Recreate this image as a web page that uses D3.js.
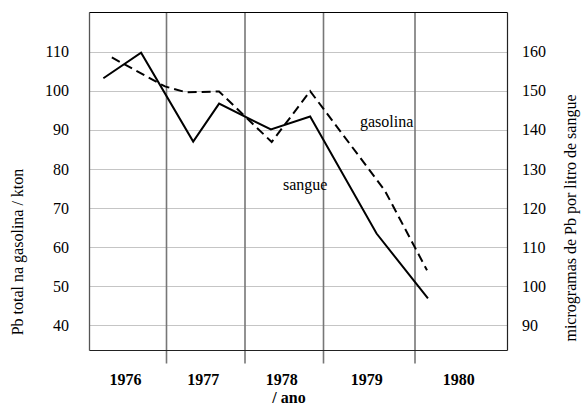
<!DOCTYPE html>
<html><head><meta charset="utf-8">
<script src="https://cdn.jsdelivr.net/npm/d3@7"></script>
<style>body{margin:0;background:#fff}svg{display:block}text{font-family:"Liberation Serif","Times New Roman",serif;fill:#000}</style>
</head><body><svg id="c" width="581" height="405"></svg>
<script>
const years = ["1976","1977","1978","1979","1980"];
const yearBounds = [1976,1977,1978,1979,1980,1981];
const leftTicks = [40,50,60,70,80,90,100,110];
const rightTicks = [90,100,110,120,130,140,150,160];
// gasolina (left axis, kton)
const gasT = [1976.29,1976.98,1977.25,1977.67,1978.34,1978.83,1979.67,1980.13];
const gasV = [108.5,101.1,99.6,99.8,86.9,99.9,74.5,54.1];
// sangue (right axis, µg/L)
const sangueT = [1976.18,1976.67,1977.34,1977.67,1978.33,1978.83,1979.58,1980.14];
const sangueV = [153.2,159.7,137.0,146.7,140.1,143.4,113.5,96.9];

const svg = d3.select("#c");
const L=89.5, R=507.5, T=12.5, B=350.5;
const x = d3.scaleLinear().domain(yearBounds).range([L,166.5,245,323.5,415,R]);
const yL = d3.scaleLinear().domain([33.6,120]).range([B,T]);
const yR = d3.scaleLinear().domain([83.6,170]).range([B,T]);

// horizontal dotted gridlines
svg.append("g").selectAll("line").data(leftTicks).join("line")
  .attr("x1",L).attr("x2",R).attr("y1",d=>Math.round(yL(d))+0.5).attr("y2",d=>Math.round(yL(d))+0.5)
  .attr("stroke","#8a8a8a").attr("stroke-width",1).attr("stroke-dasharray","1,1");

// vertical year dividers (extend below axis)
svg.append("g").selectAll("line").data(yearBounds.slice(1,-1)).join("line")
  .attr("x1",d=>x(d)).attr("x2",d=>x(d)).attr("y1",T).attr("y2",B+13)
  .attr("stroke","#777").attr("stroke-width",1.6);

// frame
svg.append("line").attr("x1",L).attr("x2",L).attr("y1",T).attr("y2",B).attr("stroke","#555").attr("stroke-width",1.3);
svg.append("line").attr("x1",L).attr("x2",R).attr("y1",T).attr("y2",T).attr("stroke","#000").attr("stroke-width",1);
svg.append("line").attr("x1",R).attr("x2",R).attr("y1",T).attr("y2",B).attr("stroke","#222").attr("stroke-width",1.2);
svg.append("line").attr("x1",L).attr("x2",R).attr("y1",B).attr("y2",B).attr("stroke","#222").attr("stroke-width",1.2);

// tick labels
svg.append("g").selectAll("text").data(leftTicks).join("text")
  .attr("x",69).attr("y",d=>yL(d)).attr("dy","0.35em").attr("text-anchor","end")
  .attr("font-size",16).text(d=>d);
svg.append("g").selectAll("text").data(rightTicks).join("text")
  .attr("x",522).attr("y",d=>yR(d)).attr("dy","0.35em").attr("text-anchor","start")
  .attr("font-size",16).text(d=>d);
svg.append("g").selectAll("text").data(years).join("text")
  .attr("x",(d,i)=>(x(yearBounds[i])+x(yearBounds[i+1]))/2-2.5).attr("y",385)
  .attr("text-anchor","middle").attr("font-size",16).attr("font-weight","bold").text(d=>d);
svg.append("text").attr("x",289).attr("y",403).attr("text-anchor","middle")
  .attr("font-size",16).attr("font-weight","bold").text("/ ano");

// axis titles
svg.append("text").attr("transform","translate(23,252) rotate(-90)").attr("text-anchor","middle")
  .attr("font-size",16).text("Pb total na gasolina / kton");
svg.append("text").attr("transform","translate(576,218) rotate(-90)").attr("text-anchor","middle")
  .attr("font-size",16).text("microgramas de Pb por litro de sangue");

// lines
const gasLine = d3.line().x(d=>x(d[0])).y(d=>yL(d[1]));
const sanLine = d3.line().x(d=>x(d[0])).y(d=>yR(d[1]));
svg.append("path").datum(d3.zip(gasT,gasV)).attr("d",gasLine)
  .attr("fill","none").attr("stroke","#000").attr("stroke-width",2).attr("stroke-dasharray","9,5");
svg.append("path").datum(d3.zip(sangueT,sangueV)).attr("d",sanLine)
  .attr("fill","none").attr("stroke","#000").attr("stroke-width",2).attr("stroke-linejoin","miter");

// series labels
svg.append("text").attr("x",360).attr("y",127).attr("font-size",16).text("gasolina");
svg.append("text").attr("x",283).attr("y",190).attr("font-size",16).text("sangue");
</script></body></html>
